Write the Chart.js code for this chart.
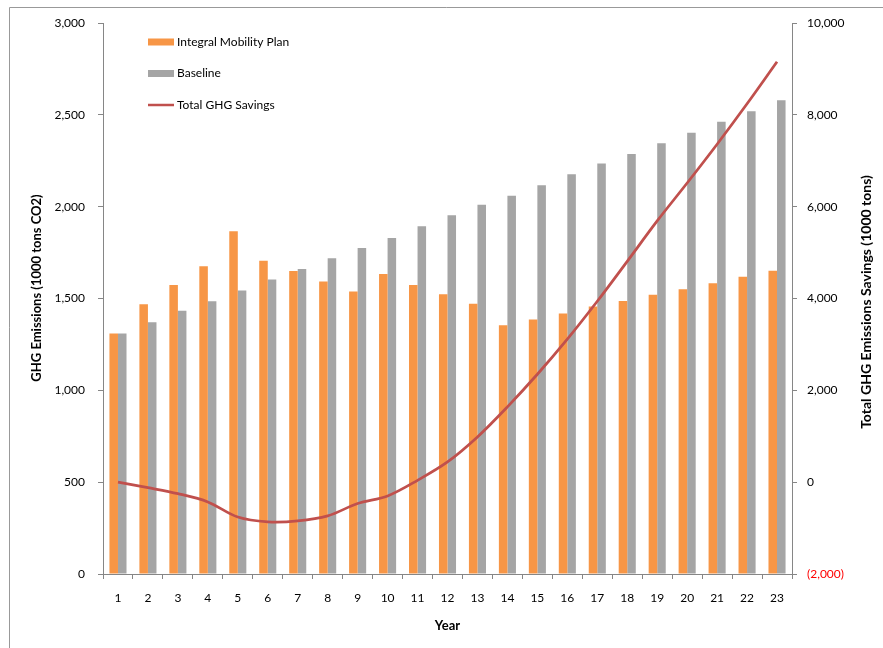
<!DOCTYPE html>
<html>
<head>
<meta charset="utf-8">
<script src="https://cdn.jsdelivr.net/npm/chart.js@4.4.0/dist/chart.umd.min.js"></script>
<style>
  html, body { margin: 0; padding: 0; background: #fff; }
  canvas { display: block; }
</style>
</head>
<body>
<canvas id="ghgChart" width="883" height="648"></canvas>
<script>
"use strict";

// values
const years = ['1', '2', '3', '4', '5', '6', '7', '8', '9', '10', '11', '12',
               '13', '14', '15', '16', '17', '18', '19', '20', '21', '22', '23'];
const mobilityPlan = [1310, 1469, 1574, 1676, 1866, 1705, 1650, 1592, 1538, 1634, 1574, 1523,
                      1471, 1355, 1386, 1418, 1456, 1486, 1520, 1550, 1583, 1619, 1651];
const baseline = [1310, 1371, 1433, 1485, 1543, 1603, 1661, 1719, 1775, 1830, 1893, 1953,
                  2011, 2060, 2116, 2176, 2235, 2287, 2345, 2403, 2462, 2520, 2580];
const totalSavings = [0, -120, -250, -430, -760, -865, -845, -735, -465, -300, 40, 440,
                      985, 1640, 2350, 3115, 3940, 4810, 5690, 6515, 7360, 8240, 9155];

const leftTitle = 'GHG Emissions (1000 tons CO2)';
const rightTitle = 'Total GHG Emissions Savings (1000 tons)';

const FONT = "Lato, 'Open Sans', sans-serif";
const AXIS_GREY = '#868686';

Chart.defaults.font.family = FONT;
Chart.defaults.color = '#000';

const fmt = v => {
    const s = Math.abs(v).toLocaleString('en-US');
    return v < 0 ? `(${s})` : s;
};

// white page + the thin frame round the chart
const framePlugin = {
    id: 'frame',
    beforeDraw(chart) {
        const { ctx, width, height } = chart;
        ctx.save();
        ctx.fillStyle = '#fff';
        ctx.fillRect(0, 0, width, height);
        ctx.strokeStyle = '#999';
        ctx.lineWidth = 1;
        ctx.beginPath();
        ctx.moveTo(9.5, height);
        ctx.lineTo(9.5, 7.5);
        ctx.lineTo(width, 7.5);
        ctx.stroke();
        ctx.restore();
    }
};

// both y titles read bottom-to-top (excel style), so draw them here
const sideTitles = {
    id: 'sideTitles',
    afterDraw(chart) {
        const ctx = chart.ctx;
        const draw = (text, x, y, size) => {
            ctx.save();
            ctx.translate(x, y);
            ctx.rotate(-Math.PI / 2);
            ctx.font = `bold ${size}px ${FONT}`;
            ctx.textAlign = 'center';
            ctx.textBaseline = 'middle';
            ctx.fillStyle = '#000';
            ctx.fillText(text, 0, 0);
            ctx.restore();
        };
        draw(leftTitle, 37, 288, 13);
        draw(rightTitle, 866, 302, 14);
    }
};

// legend sits inside the plot, top-left
const insideLegend = {
    id: 'insideLegend',
    afterDraw(chart, args, opts) {
        const ctx = chart.ctx;
        ctx.save();
        ctx.font = `12px ${FONT}`;
        ctx.textBaseline = 'middle';
        chart.data.datasets.forEach((ds, i) => {
            const y = opts.top + i * opts.rowGap;
            if (ds.type === 'line') {
                ctx.strokeStyle = ds.borderColor;
                ctx.lineWidth = 2.5;
                ctx.beginPath();
                ctx.moveTo(opts.left, y);
                ctx.lineTo(opts.left + opts.swatch, y);
                ctx.stroke();
            } else {
                ctx.fillStyle = ds.backgroundColor;
                ctx.fillRect(opts.left, y - 3.5, opts.swatch, 7);
            }
            ctx.fillStyle = '#000';
            ctx.fillText(ds.label, opts.left + opts.swatch + 3, y);
        });
        ctx.restore();
    }
};

new Chart(document.getElementById('ghgChart'), {
    type: 'bar',
    data: {
        labels: years,
        datasets: [
            { label: 'Integral Mobility Plan', data: mobilityPlan, backgroundColor: '#F79646', yAxisID: 'y', order: 2 },
            { label: 'Baseline', data: baseline, backgroundColor: '#A5A5A5', yAxisID: 'y', order: 2 },
            {
                type: 'line', label: 'Total GHG Savings', data: totalSavings, yAxisID: 'y1', order: 0,
                borderColor: '#C0504D', borderWidth: 2.75, pointRadius: 0, tension: 0.33, fill: false
            }
        ]
    },
    options: {
        responsive: false,
        animation: false,
        events: [],
        datasets: { bar: { categoryPercentage: 0.57, barPercentage: 1.0 } },
        layout: { padding: { top: 23, right: 0, bottom: 0, left: 0 } },
        plugins: {
            legend: { display: false },
            tooltip: { enabled: false },
            insideLegend: { left: 148, top: 42, rowGap: 31.5, swatch: 26 }
        },
        scales: {
            x: {
                grid: { offset: true, drawOnChartArea: false, tickLength: 5, color: AXIS_GREY },
                border: { color: AXIS_GREY },
                ticks: { font: { size: 12 }, padding: 12, maxRotation: 0, autoSkip: false },
                title: { display: true, text: 'Year', font: { size: 13, weight: 'bold' }, padding: { top: 0, bottom: 14 } },
                afterFit: s => { s.height = 74; }
            },
            y: {
                position: 'left', min: 0, max: 3000,
                grid: { drawOnChartArea: false, tickLength: 5, color: AXIS_GREY },
                border: { color: AXIS_GREY },
                ticks: { stepSize: 500, font: { size: 12 }, padding: 13, callback: v => fmt(v) },
                afterFit: s => { s.width = 103; }
            },
            y1: {
                position: 'right', min: -2000, max: 10000,
                grid: { drawOnChartArea: false, tickLength: 5, color: AXIS_GREY },
                border: { color: AXIS_GREY },
                ticks: {
                    stepSize: 2000, font: { size: 12 }, padding: 10, callback: v => fmt(v),
                    color: c => (c.tick && c.tick.value < 0 ? '#FF0000' : '#000')
                },
                afterFit: s => { s.width = 91; }
            }
        }
    },
    plugins: [framePlugin, sideTitles, insideLegend]
});
</script>
</body>
</html>
